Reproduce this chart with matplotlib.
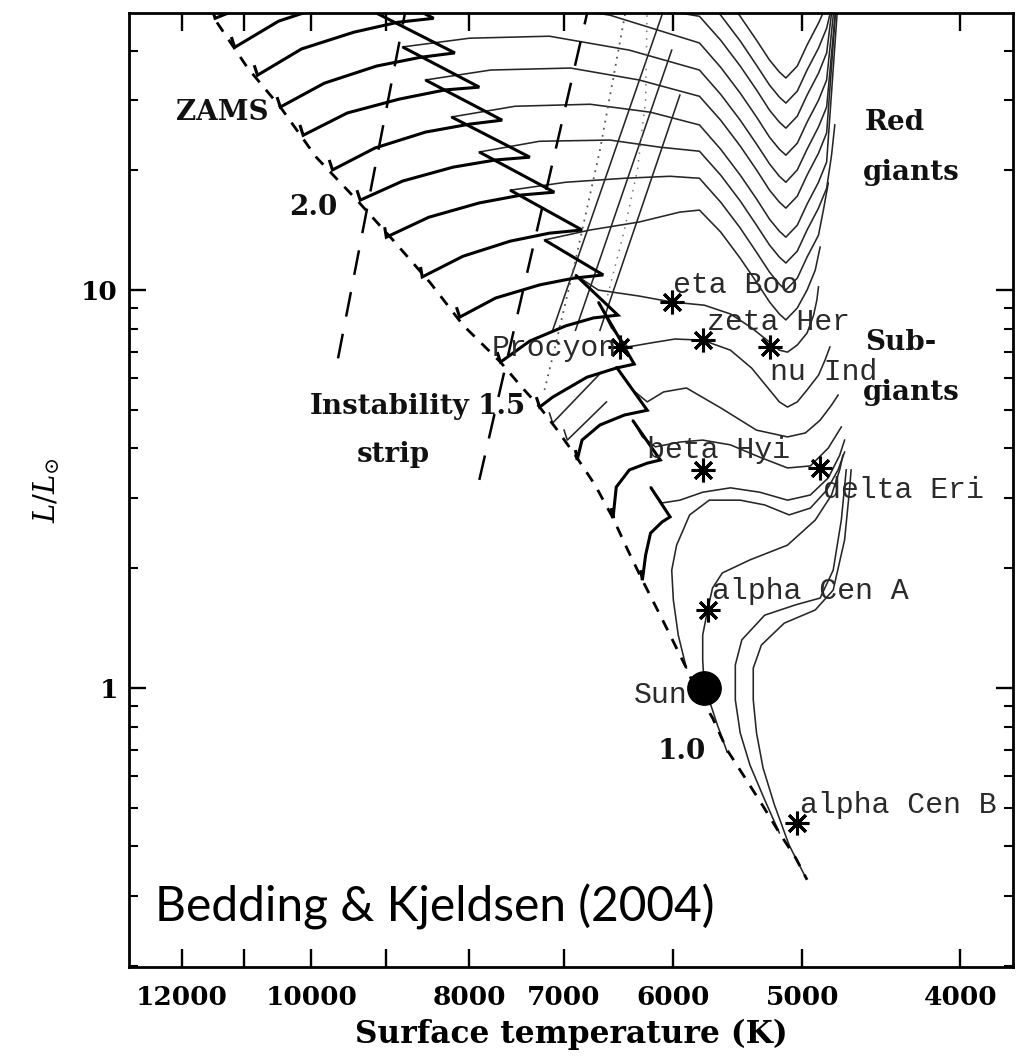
import numpy as np
import matplotlib
matplotlib.use("Agg")
import matplotlib.pyplot as plt
from matplotlib.ticker import FixedLocator, FixedFormatter, NullFormatter

# ---------------- data (log Teff, log L/Lsun) ----------------
zams = [(4.065,1.716),(4.039,1.558),(4.019,1.460),(3.997,1.334),(3.972,1.226),(3.950,1.126),
        (3.927,1.018),(3.907,0.912),(3.884,0.819),(3.872,0.761),(3.860,0.706),(3.850,0.653),
        (3.837,0.578),(3.826,0.510),(3.815,0.427),(3.806,0.347),(3.797,0.271),(3.784,0.166),
        (3.770,0.050),(3.764,-0.005),(3.754,-0.075),(3.745,-0.156),(3.734,-0.226),(3.723,-0.297),
        (3.713,-0.364),(3.703,-0.427),(3.696,-0.482)]

blue_edge = [(3.941,1.729),(3.985,0.799)]
red_edge = [(3.829,1.729),(3.898,0.505)]
dotted1 = [(3.806,1.729),(3.823,1.352),(3.838,1.075),(3.851,0.849),(3.857,0.749)]
dotted2 = [(3.794,1.729),(3.795,1.477),(3.800,1.302),(3.808,1.151),(3.819,0.975)]

hatch1 = [(3.852,0.899),(3.785,1.691)]
hatch2 = [(3.838,0.899),(3.779,1.603)]
hatch3 = [(3.823,0.899),(3.774,1.490)]
foot1 = [(3.854,0.691),(3.852,0.666),(3.822,0.794)]
foot2 = [(3.845,0.648),(3.843,0.623),(3.819,0.719)]

m26_ms = [(4.061,1.709),(4.059,1.683),(4.031,1.729),(4.007,1.766)]
m26_post = [(3.792,1.879),(3.762,1.814),(3.749,1.754),(3.737,1.688),(3.727,1.628),(3.719,1.578),
            (3.713,1.548),(3.709,1.533),(3.702,1.563),(3.696,1.616),(3.689,1.671),(3.684,1.716),(3.682,1.741)]
m25_ms = [(4.049,1.636),(4.047,1.610),(4.020,1.676),(3.988,1.719),(3.961,1.744),(3.940,1.754),(3.989,1.854)]
m25_post = [(3.989,1.854),(3.884,1.842),(3.792,1.792),(3.762,1.751),(3.749,1.691),(3.737,1.626),
            (3.727,1.565),(3.719,1.515),(3.713,1.485),(3.709,1.470),(3.702,1.500),(3.696,1.553),
            (3.689,1.608),(3.684,1.658),(3.680,1.729)]
m24_ms = [(4.035,1.565),(4.033,1.540),(4.006,1.606),(3.974,1.648),(3.947,1.673),(3.925,1.683),(3.973,1.784)]
m24_post = [(3.973,1.784),(3.915,1.779),(3.854,1.744),(3.792,1.709),(3.762,1.688),(3.749,1.628),
            (3.737,1.563),(3.727,1.503),(3.719,1.452),(3.713,1.422),(3.709,1.407),(3.702,1.437),
            (3.696,1.490),(3.689,1.545),(3.684,1.596),(3.680,1.729)]
m23_ms = [(4.021,1.485),(4.019,1.460),(3.992,1.520),(3.960,1.563),(3.933,1.585),(3.912,1.596),(3.960,1.696)]
m23_post = [(3.960,1.696),(3.915,1.716),(3.866,1.721),(3.817,1.691),(3.762,1.621),(3.749,1.560),
            (3.737,1.495),(3.727,1.435),(3.719,1.384),(3.713,1.354),(3.709,1.339),(3.702,1.369),
            (3.696,1.422),(3.689,1.477),(3.684,1.528),(3.679,1.729)]
m22_ms = [(4.007,1.415),(4.005,1.389),(3.978,1.445),(3.946,1.480),(3.918,1.503),(3.897,1.510),(3.944,1.611)]
m22_post = [(3.944,1.611),(3.903,1.633),(3.854,1.638),(3.805,1.603),(3.762,1.553),(3.749,1.492),
            (3.737,1.427),(3.727,1.367),(3.719,1.317),(3.713,1.286),(3.709,1.271),(3.702,1.302),
            (3.696,1.354),(3.689,1.410),(3.684,1.460),(3.678,1.729)]
m21_ms = [(3.989,1.327),(3.987,1.302),(3.961,1.357),(3.930,1.397),(3.903,1.417),(3.883,1.427),(3.930,1.528)]
m21_post = [(3.930,1.528),(3.890,1.553),(3.841,1.558),(3.799,1.528),(3.762,1.487),(3.749,1.427),
            (3.737,1.362),(3.727,1.302),(3.719,1.251),(3.713,1.221),(3.709,1.206),(3.702,1.236),
            (3.696,1.289),(3.689,1.344),(3.684,1.395),(3.678,1.729)]
m20_ms = [(3.972,1.251),(3.970,1.226),(3.944,1.274),(3.913,1.309),(3.887,1.327),(3.866,1.334),(3.914,1.435)]
m20_post = [(3.914,1.435),(3.875,1.462),(3.829,1.467),(3.792,1.447),(3.762,1.415),(3.749,1.354),
            (3.737,1.289),(3.727,1.229),(3.719,1.178),(3.713,1.148),(3.709,1.133),(3.702,1.163),
            (3.696,1.216),(3.689,1.271),(3.684,1.322),(3.677,1.729)]
m19_ms = [(3.955,1.158),(3.954,1.133),(3.928,1.183),(3.897,1.219),(3.871,1.239),(3.851,1.246),(3.897,1.347)]
m19_post = [(3.897,1.347),(3.860,1.374),(3.817,1.377),(3.786,1.359),(3.762,1.349),(3.749,1.289),
            (3.737,1.224),(3.727,1.163),(3.719,1.113),(3.713,1.083),(3.709,1.068),(3.702,1.098),
            (3.696,1.151),(3.689,1.206),(3.684,1.256),(3.681,1.339),(3.679,1.415)]
m18_ms = [(3.933,1.058),(3.932,1.033),(3.907,1.085),(3.878,1.123),(3.854,1.143),(3.834,1.151),(3.878,1.251)]
m18_post = [(3.878,1.251),(3.844,1.271),(3.808,1.281),(3.780,1.286),(3.762,1.281),(3.749,1.221),
            (3.737,1.156),(3.727,1.095),(3.719,1.045),(3.713,1.015),(3.709,1.000),(3.702,1.030),
            (3.696,1.083),(3.689,1.138),(3.686,1.201),(3.683,1.269)]
m17_ms = [(3.911,0.957),(3.909,0.932),(3.887,0.980),(3.860,1.013),(3.839,1.030),(3.821,1.038),(3.857,1.126)]
m17_post = [(3.857,1.126),(3.829,1.151),(3.799,1.171),(3.774,1.196),(3.762,1.201),(3.749,1.146),
            (3.737,1.080),(3.727,1.020),(3.719,0.970),(3.713,0.940),(3.709,0.925),(3.702,0.955),
            (3.696,1.000),(3.691,1.050),(3.688,1.108)]
m16_ms = [(3.886,0.844),(3.884,0.819),(3.866,0.872),(3.844,0.910),(3.827,0.930),(3.812,0.937),(3.838,1.038)]
m16_post = [(3.838,1.038),(3.824,1.000),(3.799,0.985),(3.779,0.970),(3.759,0.962),(3.743,0.940),
            (3.730,0.905),(3.719,0.869),(3.713,0.849),(3.708,0.844),(3.702,0.862),(3.696,0.892),
            (3.692,0.937),(3.690,0.975),(3.689,1.008)]
m15_ms = [(3.862,0.731),(3.860,0.706),(3.852,0.731),(3.831,0.781),(3.813,0.804),(3.802,0.814),(3.824,0.970)]
m15_post = [(3.824,0.970),(3.816,0.905),(3.806,0.857),(3.792,0.867),(3.777,0.877),(3.760,0.874),
            (3.743,0.849),(3.730,0.804),(3.719,0.749),(3.713,0.719),(3.708,0.706),(3.702,0.719),
            (3.696,0.749),(3.689,0.786),(3.685,0.824),(3.682,0.857)]
m14_ms = [(3.838,0.598),(3.837,0.573),(3.834,0.623),(3.823,0.661),(3.808,0.686),(3.794,0.698),(3.813,0.807)]
m14_post = [(3.813,0.807),(3.803,0.749),(3.794,0.719),(3.784,0.744),(3.770,0.754),(3.749,0.704),
            (3.727,0.648),(3.708,0.631),(3.697,0.641),(3.688,0.673),(3.681,0.711),(3.677,0.736)]
m13_ms = [(3.816,0.452),(3.815,0.427),(3.813,0.505),(3.805,0.548),(3.794,0.565),(3.786,0.573),(3.803,0.673)]
m13_post = [(3.803,0.673),(3.797,0.631),(3.789,0.606),(3.774,0.618),(3.760,0.623),(3.743,0.611),
            (3.725,0.580),(3.708,0.553),(3.694,0.558),(3.683,0.603),(3.675,0.656)]
m12_ms = [(3.798,0.296),(3.797,0.271),(3.795,0.334),(3.792,0.389),(3.785,0.417),(3.780,0.430),(3.792,0.505)]
m12_post = [(3.792,0.505),(3.785,0.465),(3.774,0.472),(3.760,0.492),(3.743,0.503),(3.725,0.492),
            (3.708,0.472),(3.694,0.485),(3.683,0.528),(3.676,0.585),(3.673,0.623)]
m11 = [(3.770,0.050),(3.775,0.133),(3.778,0.221),(3.779,0.296),(3.776,0.359),(3.768,0.435),
       (3.756,0.472),(3.737,0.472),(3.722,0.460),(3.707,0.435),(3.694,0.452),(3.684,0.497),
       (3.677,0.548),(3.673,0.593)]
m10 = [(3.745,-0.161),(3.751,-0.093),(3.755,-0.043),(3.759,0.000),(3.760,0.070),(3.760,0.133),
       (3.757,0.196),(3.754,0.251),(3.748,0.289),(3.731,0.322),(3.708,0.359),(3.691,0.422),
       (3.681,0.485),(3.676,0.548),(3.674,0.585)]
m09 = [(3.713,-0.364),(3.722,-0.281),(3.731,-0.194),(3.737,-0.113),(3.740,-0.030),(3.740,0.058),
       (3.736,0.121),(3.722,0.183),(3.703,0.209),(3.688,0.226),(3.680,0.296),(3.675,0.422),(3.672,0.548)]
m08 = [(3.697,-0.475),(3.707,-0.395),(3.716,-0.294),(3.723,-0.201),(3.727,-0.113),(3.729,-0.030),
       (3.729,0.050),(3.724,0.108),(3.710,0.163),(3.691,0.196),(3.680,0.246),(3.673,0.372),
       (3.670,0.497),(3.669,0.548)]

star_names = ["eta Boo", "zeta Her", "nu Ind", "Procyon", "beta Hyi", "delta Eri",
              "alpha Cen A", "alpha Cen B"]
star_teff = [6010, 5750, 5235, 6470, 5750, 4875, 5715, 5035]
star_lum = [9.33, 7.48, 7.19, 7.19, 3.53, 3.57, 1.57, 0.458]
sun_teff, sun_lum = 5740, 1.0

x_ticks = [12000, 11000, 10000, 9000, 8000, 7000, 6000, 5000, 4000]
x_tick_labels = ["12000", "", "10000", "", "8000", "7000", "6000", "5000", "4000"]
y_major = [1, 10]
y_major_labels = ["1", "10"]
y_minor = [0.2, 0.3, 0.4, 0.5, 0.6, 0.7, 0.8, 0.9, 2, 3, 4, 5, 6, 7, 8, 9, 20, 30, 40]

# ---------------- figure ----------------
plt.rcParams['font.family'] = ['DejaVu Serif']
plt.rcParams['mathtext.fontset'] = 'dejavuserif'

fig = plt.figure(figsize=(10.18, 10.56), dpi=100)
ax = fig.add_axes([0.1267, 0.0843, 0.8684, 0.9034])
ax.set_xscale('log')
ax.set_yscale('log')


def draw(pts, **kw):
    a = np.array(pts, dtype=float)
    ax.plot(10 ** a[:, 0], 10 ** a[:, 1], **kw)


THICK = dict(color='black', lw=2.2, solid_joinstyle='miter', solid_capstyle='butt')
THIN = dict(color='#262626', lw=1.15)

ms_parts = [m26_ms, m25_ms, m24_ms, m23_ms, m22_ms, m21_ms, m20_ms, m19_ms, m18_ms,
            m17_ms, m16_ms, m15_ms, m14_ms, m13_ms, m12_ms]
post_parts = [m26_post, m25_post, m24_post, m23_post, m22_post, m21_post, m20_post, m19_post,
              m18_post, m17_post, m16_post, m15_post, m14_post, m13_post, m12_post,
              m11, m10, m09, m08]

for p in post_parts:
    draw(p, **THIN)
for p in [hatch1, hatch2, hatch3, foot1, foot2]:
    draw(p, **THIN)
for p in ms_parts:
    draw(p, **THICK)

draw(dotted1, color='#555555', lw=1.3, linestyle=(0, (1, 3)))
draw(dotted2, color='#777777', lw=1.1, linestyle=(0, (1, 4)))
draw(zams, color='black', lw=2.0, linestyle=(0, (4, 3.5)))
draw(blue_edge, color='black', lw=1.8, linestyle=(0, (10, 7)))
draw(red_edge, color='black', lw=1.8, linestyle=(0, (10, 7)))

ax.plot(star_teff, star_lum, linestyle='none', marker=(8, 2, 0), markersize=17,
        markeredgewidth=2.2, color='black')
ax.plot([sun_teff], [sun_lum], linestyle='none', marker='o', markersize=24, color='black')

ax.set_xlim(12936, 3713)
ax.set_ylim(0.199, 49.7)

ax.xaxis.set_major_locator(FixedLocator(x_ticks))
ax.xaxis.set_major_formatter(FixedFormatter(x_tick_labels))
ax.xaxis.set_minor_locator(FixedLocator([]))
ax.xaxis.set_minor_formatter(NullFormatter())
ax.yaxis.set_major_locator(FixedLocator(y_major))
ax.yaxis.set_major_formatter(FixedFormatter(y_major_labels))
ax.yaxis.set_minor_locator(FixedLocator(y_minor))
ax.yaxis.set_minor_formatter(NullFormatter())

ax.tick_params(axis='both', which='both', direction='in', top=True, right=True)
ax.tick_params(axis='x', which='major', length=13, width=1.7, pad=13, labelsize=19)
ax.tick_params(axis='y', which='major', length=12, width=1.7, pad=8, labelsize=19)
ax.tick_params(axis='y', which='minor', length=6.5, width=1.5)
for lab in ax.get_xticklabels() + ax.get_yticklabels():
    lab.set_fontweight('bold')
for s in ax.spines.values():
    s.set_linewidth(2.0)

ax.set_xlabel('Surface temperature (K)', fontsize=22.5, fontweight='bold', labelpad=6)
ax.set_ylabel(r'$L/L_{\odot}$', fontsize=21, labelpad=14)

# ---------------- labels ----------------
T = ax.transAxes
serif = dict(transform=T, fontsize=20, fontweight='bold', family='DejaVu Serif', color='#111111')
ax.text(0.1052, 0.8962, 'ZAMS', ha='center', va='center', **serif)
ax.text(0.2081, 0.7966, '2.0', ha='center', va='center', **serif)
ax.text(0.4219, 0.5870, '1.5', ha='center', va='center', **serif)
ax.text(0.6256, 0.2254, '1.0', ha='center', va='center', **serif)
ax.text(0.8326, 0.8847, 'Red', ha='left', va='center', **serif)
ax.text(0.8303, 0.8333, 'giants', ha='left', va='center', **serif)
ax.text(0.8326, 0.6551, 'Sub-', ha='left', va='center', **serif)
ax.text(0.8303, 0.6027, 'giants', ha='left', va='center', **serif)
ax.text(0.2952, 0.5870, 'Instability', ha='center', va='center', **serif)
ax.text(0.2986, 0.5367, 'strip', ha='center', va='center', **serif)

mono = dict(transform=T, fontsize=21.5, family='Liberation Mono', color='#2a2a2a', va='center')
ax.text(0.6154, 0.7149, 'eta Boo', ha='left', **mono)
ax.text(0.6538, 0.6761, 'zeta Her', ha='left', **mono)
ax.text(0.7251, 0.6237, 'nu Ind', ha='left', **mono)
ax.text(0.5520, 0.6488, 'Procyon', ha='right', **mono)
ax.text(0.5860, 0.5419, 'beta Hyi', ha='left', **mono)
ax.text(0.7851, 0.5000, 'delta Eri', ha='left', **mono)
ax.text(0.6595, 0.3941, 'alpha Cen A', ha='left', **mono)
ax.text(0.7590, 0.1698, 'alpha Cen B', ha='left', **mono)
ax.text(0.6312, 0.2851, 'Sun', ha='right', **mono)

ax.text(0.0294, 0.0629, 'Bedding & Kjeldsen (2004)', transform=T, ha='left', va='center',
        fontsize=34.5, family='Lato', color='black')

fig.savefig('out.png', dpi=100)
